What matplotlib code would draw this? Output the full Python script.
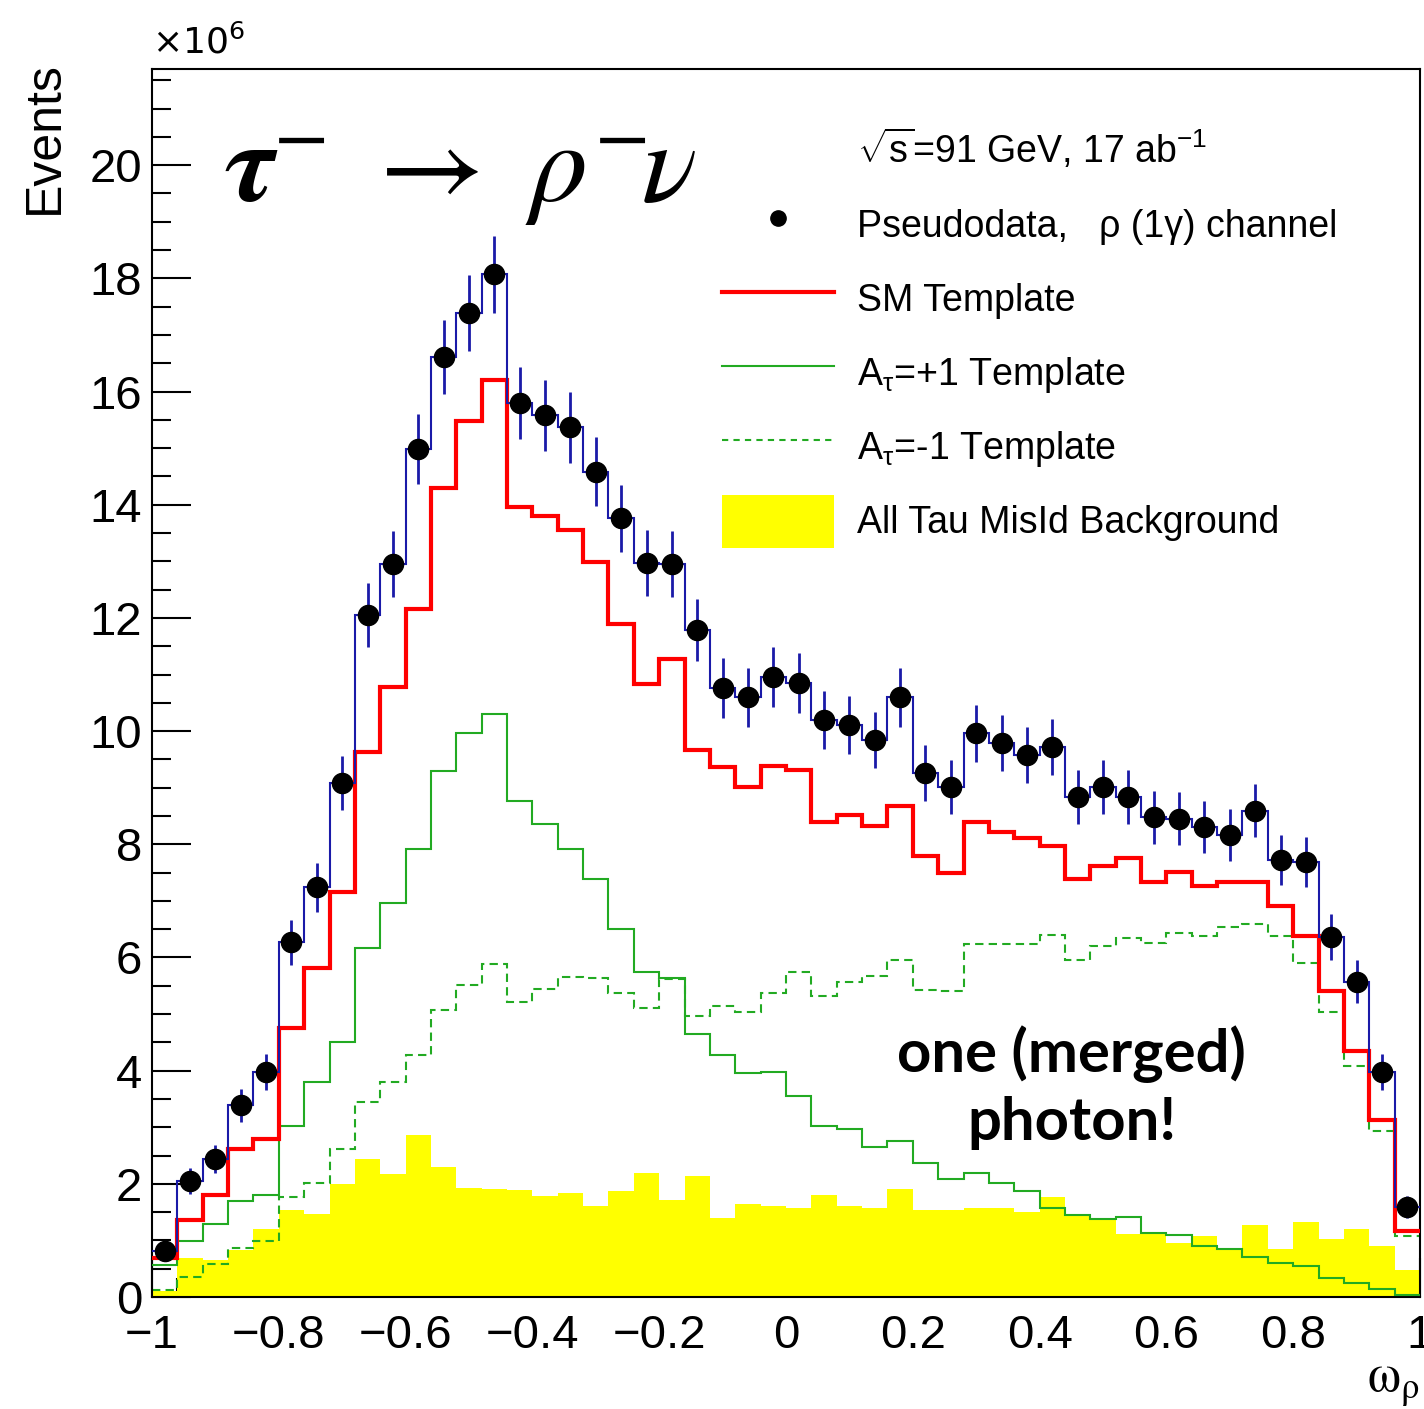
import numpy as np
import matplotlib
matplotlib.use("Agg")
import matplotlib.pyplot as plt
from matplotlib.ticker import MultipleLocator
from matplotlib.lines import Line2D
from matplotlib.patches import Patch

plt.rcParams['font.family'] = ['Liberation Sans', 'DejaVu Sans']
plt.rcParams['mathtext.fontset'] = 'custom'
plt.rcParams['mathtext.rm'] = 'Liberation Sans'
plt.rcParams['mathtext.it'] = 'Liberation Sans:italic'
plt.rcParams['mathtext.bf'] = 'Liberation Sans:bold'

# omega_rho binning: 50 bins on [-1, 1]; contents in units of 1e6 events
edges = np.linspace(-1.0, 1.0, 51)
centers = 0.5 * (edges[1:] + edges[:-1])

pseudodata = [0.81, 2.05, 2.44, 3.39, 3.98, 6.27, 7.24, 9.08, 12.05, 12.95,
              14.98, 16.61, 17.39, 18.07, 15.80, 15.58, 15.37, 14.58, 13.76, 12.97,
              12.95, 11.78, 10.76, 10.60, 10.95, 10.85, 10.19, 10.11, 9.84, 10.60,
              9.26, 9.01, 9.96, 9.79, 9.58, 9.72, 8.83, 9.01, 8.83, 8.48,
              8.45, 8.30, 8.16, 8.59, 7.72, 7.69, 6.36, 5.57, 3.98, 1.59]
pseudodata_err = [0.15, 0.23, 0.25, 0.29, 0.32, 0.40, 0.43, 0.48, 0.56, 0.58,
                  0.62, 0.65, 0.67, 0.68, 0.64, 0.63, 0.63, 0.61, 0.59, 0.58,
                  0.58, 0.55, 0.53, 0.52, 0.53, 0.53, 0.51, 0.51, 0.50, 0.52,
                  0.49, 0.48, 0.50, 0.50, 0.50, 0.50, 0.48, 0.48, 0.48, 0.47,
                  0.47, 0.46, 0.46, 0.47, 0.44, 0.44, 0.40, 0.38, 0.32, 0.20]
sm_template = [0.69, 1.36, 1.81, 2.61, 2.80, 4.76, 5.81, 7.16, 9.63, 10.78,
               12.16, 14.29, 15.48, 16.20, 13.96, 13.80, 13.55, 12.99, 11.90, 10.83,
               11.27, 9.66, 9.36, 9.01, 9.38, 9.32, 8.40, 8.52, 8.33, 8.68,
               7.80, 7.49, 8.39, 8.22, 8.11, 7.97, 7.38, 7.61, 7.75, 7.33,
               7.51, 7.26, 7.33, 7.33, 6.91, 6.38, 5.41, 4.35, 3.12, 1.17]
atau_plus = [0.57, 0.99, 1.29, 1.70, 1.80, 3.03, 3.80, 4.50, 6.16, 6.97,
             7.92, 9.29, 9.96, 10.31, 8.77, 8.36, 7.91, 7.38, 6.51, 5.74,
             5.63, 4.65, 4.27, 3.95, 3.98, 3.56, 3.02, 2.97, 2.65, 2.75,
             2.36, 2.08, 2.19, 2.02, 1.87, 1.58, 1.45, 1.38, 1.41, 1.13,
             1.09, 0.91, 0.85, 0.70, 0.60, 0.54, 0.33, 0.24, 0.14, 0.04]
atau_minus = [0.12, 0.36, 0.58, 0.87, 0.99, 1.77, 2.01, 2.61, 3.45, 3.80,
              4.27, 5.07, 5.52, 5.88, 5.21, 5.45, 5.66, 5.63, 5.38, 5.11,
              5.62, 4.96, 5.14, 5.03, 5.38, 5.74, 5.32, 5.57, 5.67, 5.95,
              5.43, 5.40, 6.23, 6.23, 6.23, 6.40, 5.95, 6.20, 6.34, 6.26,
              6.44, 6.38, 6.53, 6.59, 6.38, 5.91, 5.04, 4.09, 2.93, 1.07]
misid_bkg = [0.10, 0.69, 0.65, 0.83, 1.21, 1.54, 1.47, 1.99, 2.44, 2.17,
             2.86, 2.30, 1.92, 1.91, 1.89, 1.79, 1.84, 1.61, 1.88, 2.20,
             1.71, 2.14, 1.40, 1.64, 1.61, 1.58, 1.81, 1.61, 1.58, 1.91,
             1.54, 1.54, 1.57, 1.57, 1.51, 1.77, 1.45, 1.38, 1.11, 1.11,
             0.95, 1.07, 0.86, 1.28, 0.84, 1.32, 1.02, 1.21, 0.90, 0.48]

RED = '#ff0000'
GREEN = '#22aa22'
BLUE = '#1a1aa8'
YELLOW = '#ffff00'

fig = plt.figure(figsize=(14.24, 14.09), dpi=100)
ax = fig.add_axes([0.10674, 0.07949, 0.89045, 0.87154])

ax.stairs(misid_bkg, edges, fill=True, color=YELLOW, zorder=1)
ax.stairs(atau_minus, edges, baseline=None, color=GREEN, lw=1.5,
          linestyle=(0, (4, 2.5)), zorder=2)
ax.stairs(atau_plus, edges, baseline=None, color=GREEN, lw=1.5, zorder=3)
ax.stairs(sm_template, edges, baseline=None, color=RED, lw=3.0, zorder=4)
ax.stairs(pseudodata, edges, baseline=None, color=BLUE, lw=1.5, zorder=5)
ax.errorbar(centers, pseudodata, yerr=pseudodata_err, fmt='o', color='k',
            ms=14.5, ecolor=BLUE, elinewidth=2.0, capsize=0, zorder=6)

ax.set_xlim(-1, 1)
ax.set_ylim(0, 21.7)
ax.set_axisbelow(True)
ax.xaxis.set_major_locator(MultipleLocator(0.2))
ax.xaxis.set_minor_locator(MultipleLocator(0.04))
ax.yaxis.set_major_locator(MultipleLocator(2))
ax.yaxis.set_minor_locator(MultipleLocator(0.5))
ax.xaxis.set_major_formatter(plt.FuncFormatter(
    lambda v, p: f'{v:g}'.replace('-', '\u2212') if abs(v) > 1e-9 else '0'))
ax.tick_params(axis='both', which='both', direction='in', top=False, right=False,
               width=1.5, labelsize=34)
ax.tick_params(axis='y', which='major', length=28, pad=7)
ax.tick_params(axis='y', which='minor', length=14)
ax.tick_params(axis='x', which='major', length=28, pad=12)
ax.tick_params(axis='x', which='minor', length=14)
for s in ax.spines.values():
    s.set_linewidth(1.5)

ax.set_ylabel('Events', fontsize=36, loc='top')
ax.yaxis.set_label_coords(-0.066, 1.0065)
ax.set_xlabel(r'$\mathrm{\omega}_{\mathrm{\rho}}$', fontsize=38, loc='right',
              math_fontfamily='stix')
ax.xaxis.set_label_coords(1.0, -0.05)
ax.text(0.0, 1.006, r'$\times10^{6}$', transform=ax.transAxes, fontsize=26,
        ha='left', va='bottom', math_fontfamily='dejavusans')

ax.text(0.057, 0.891, r'$\boldsymbol{\tau}^{-}\ \rightarrow\ \rho^{-}\!\nu$',
        transform=ax.transAxes, fontsize=83, math_fontfamily='stix',
        ha='left', va='baseline')

ax.text(0.451, 3.7, 'one (merged)\nphoton!', fontsize=43, fontweight='bold',
        family=['Lato', 'DejaVu Sans'], ha='center', va='center',
        linespacing=1.3, multialignment='center', zorder=7)

handles = [
    Line2D([], [], color='none'),
    Line2D([], [], ls='none', marker='o', color='k', ms=11),
    Line2D([], [], color=RED, lw=3.0),
    Line2D([], [], color=GREEN, lw=1.5),
    Line2D([], [], color=GREEN, lw=1.5, linestyle=(0, (3, 2.5))),
    Patch(facecolor=YELLOW, edgecolor='none'),
]
labels = [
    r'$\sqrt{\mathrm{s}}$=91 GeV, 17 ab$^{-1}$',
    'Pseudodata,   \u03c1 (1\u03b3) channel',
    'SM Template',
    'A$_{\\mathrm{\u03c4}}$=+1 Template',
    'A$_{\\mathrm{\u03c4}}$=-1 Template',
    'All Tau MisId Background',
]
ax.legend(handles, labels, loc='upper left', bbox_to_anchor=(0.4495, 0.955),
          frameon=False, fontsize=27, handlelength=3.0, handleheight=1.80,
          handletextpad=0.6, labelspacing=0.56, borderpad=0, borderaxespad=0)

fig.savefig('out.png', dpi=100)
